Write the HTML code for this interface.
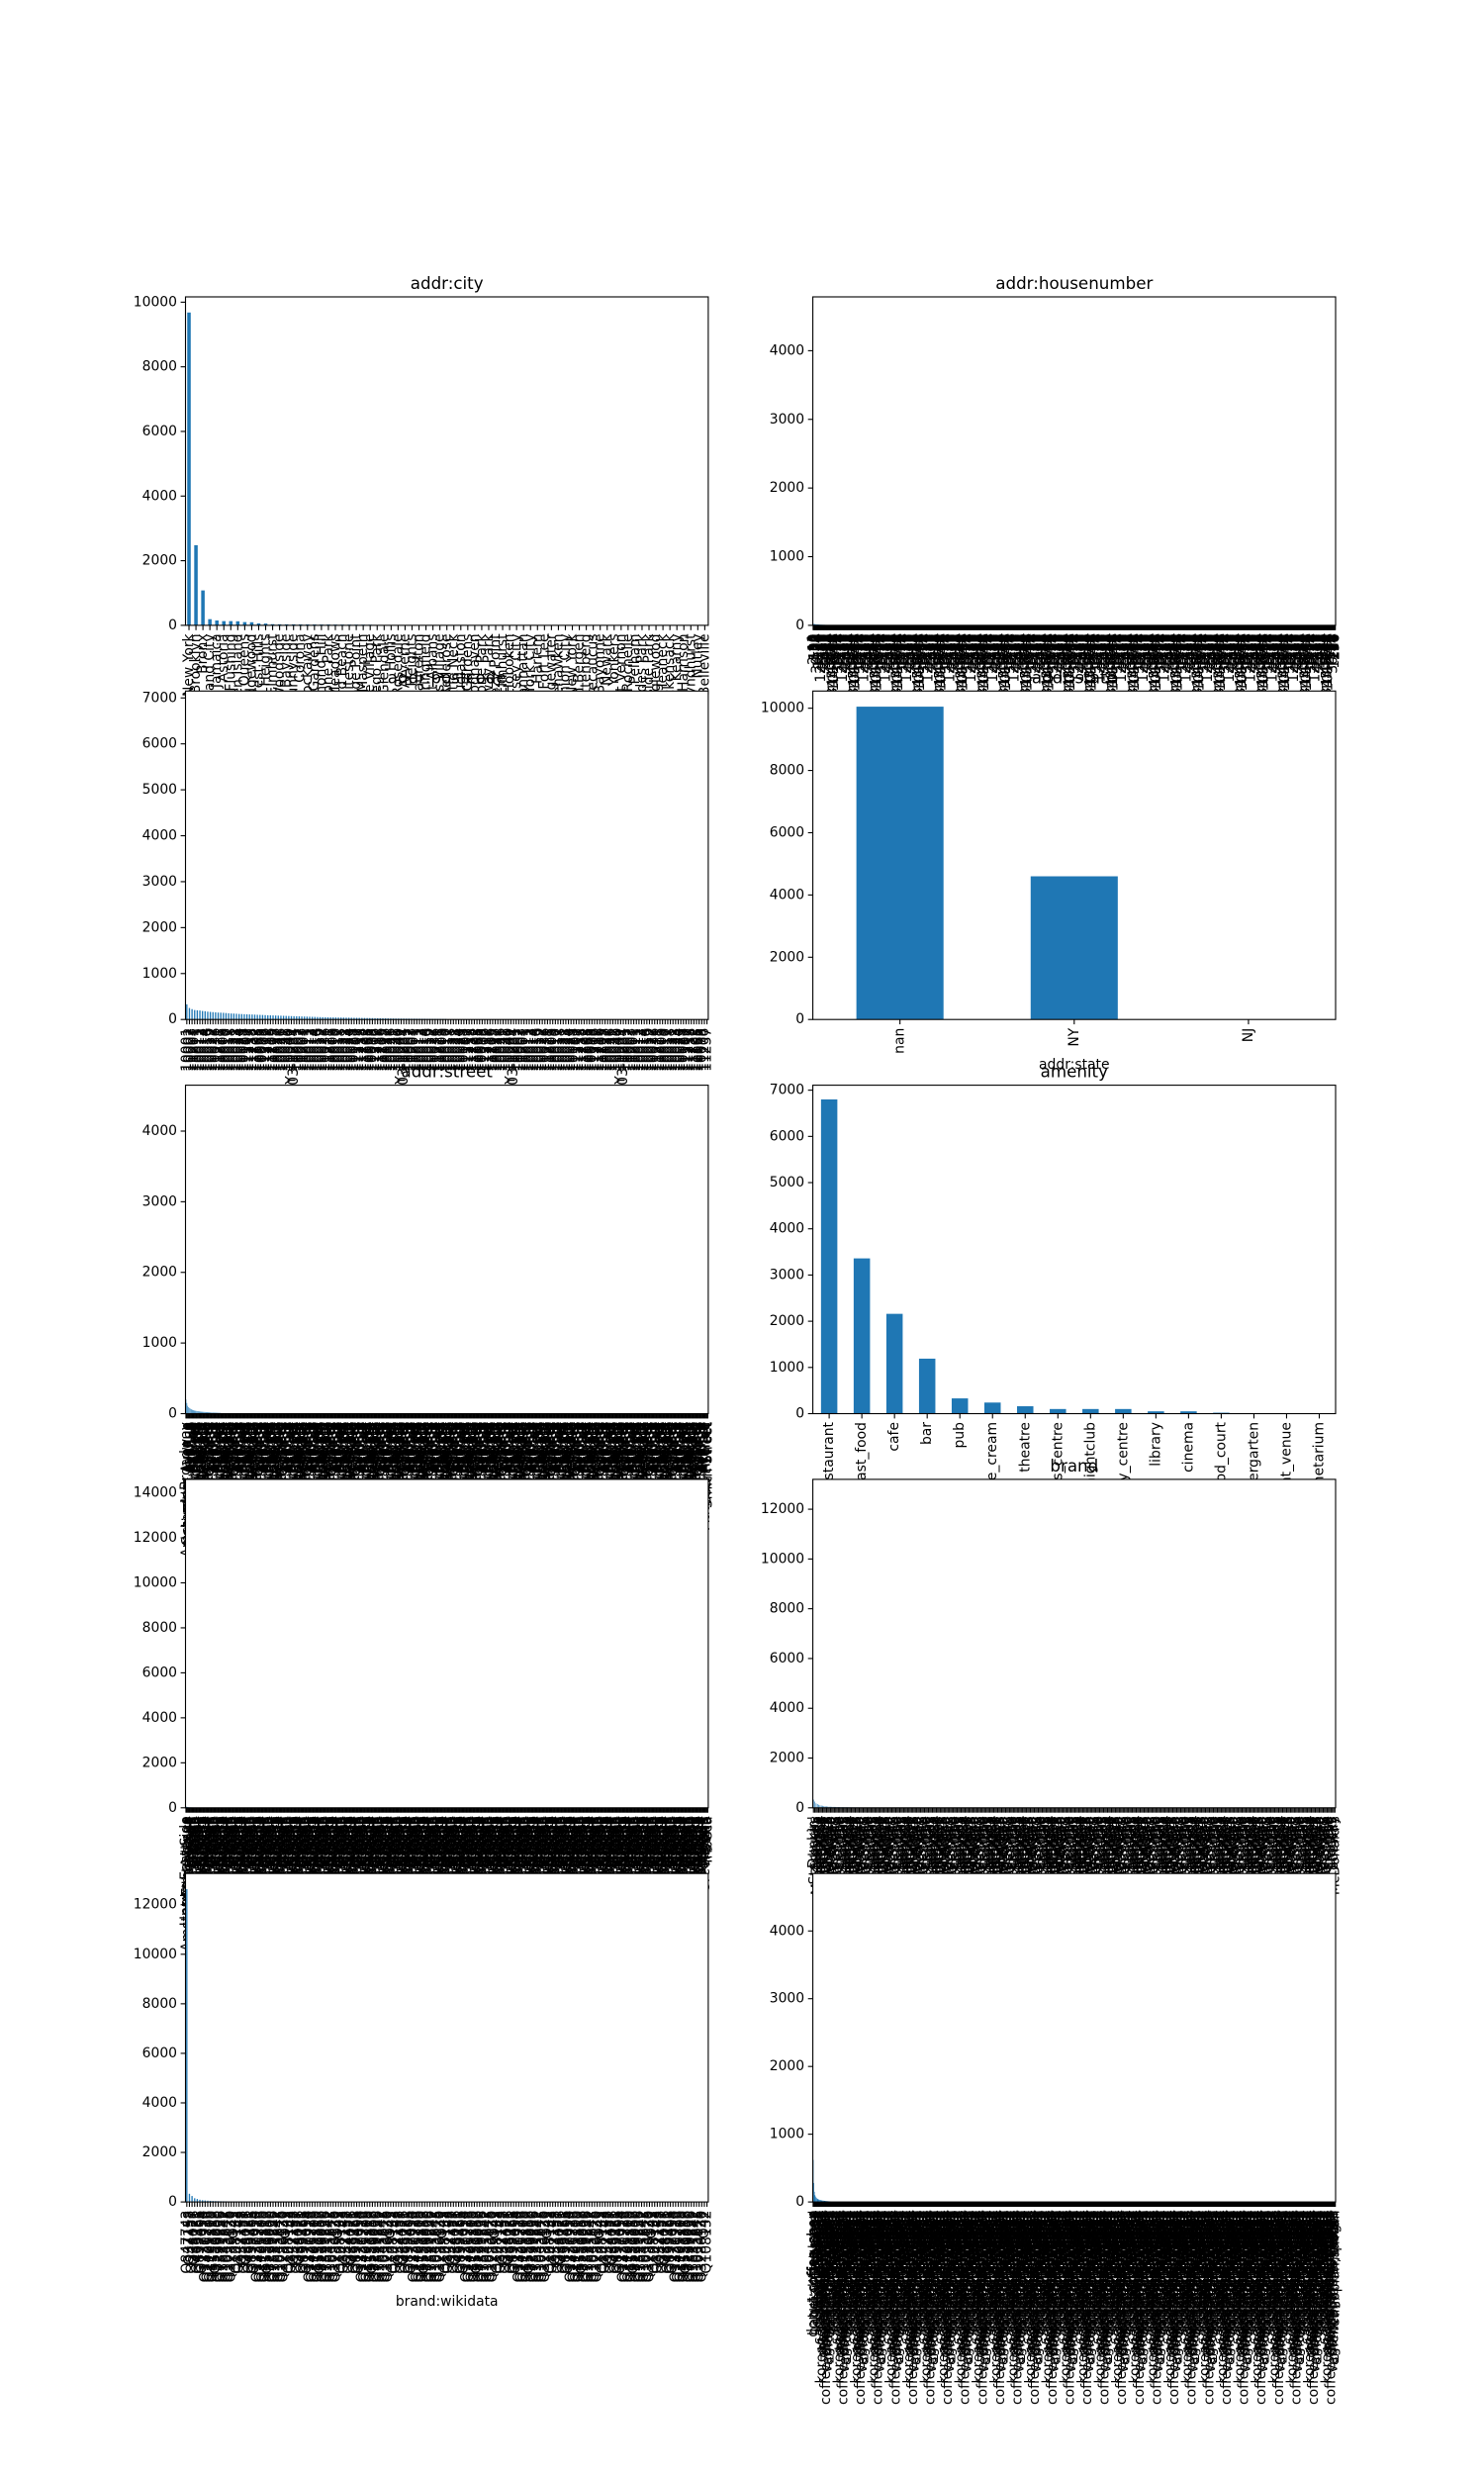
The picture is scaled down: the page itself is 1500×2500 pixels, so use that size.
<!DOCTYPE html>
<html><head><meta charset="utf-8"><style>
html,body{margin:0;padding:0;background:#fff;width:1500px;height:2500px;overflow:hidden;}
svg{display:block;font-family:"DejaVu Sans","Liberation Sans",sans-serif;overflow:hidden;}
</style></head><body>
<svg id="fig" width="1500" height="2500" viewBox="0 0 1500 2500" xmlns="http://www.w3.org/2000/svg"></svg>
<script>
// ---------- data ----------
const cityCats = ["New York","Brooklyn","Bronx","Long Island City","Jamaica","Astoria","Flushing","Staten Island","Queens","Ridgewood","Forest Hills","Jackson Heights","Elmhurst","Woodside","Bayside","Sunnyside","Corona","Far Rockaway","Kew Gardens","Richmond Hill","Ozone Park","Fresh Meadows","Howard Beach","Whitestone","College Point","Maspeth","Middle Village","Rego Park","Glendale","Hollis","Rosedale","Arverne","Cambria Heights","Laurelton","Springfield","Saint Albans","Queens Village","Bellerose","Little Neck","Douglaston","Oakland Gardens","Woodhaven","South Ozone Park","Rockaway Park","Breezy Point","East Elmhurst","Hoboken","Jersey City","Manhattan","New York City","Harlem","Fort Lee","Edgewater","Weehawken","Union City","West New York","North Bergen","Guttenberg","Secaucus","Bayonne","Newark","Yonkers","Mount Vernon","New Rochelle","Pelham","Palisades Park","Cliffside Park","Englewood","Teaneck","Hackensack","Kearny","Harrison","Lyndhurst","Nutley","Belleville"];
const cityVals = [9680,2480,1080,190,150,130,130,125,100,95,60,55,35,32,30,30,28,27,26,25,24,23,22,21,20,19,18,8,6,5,5,4,4,4,3,3,3,3,3,2,2,2,2,2,2,2,2,2,2,2,1,1,1,1,1,1,1,1,1,1,1,1,1,1,1,1,1,1,1,1,1,1,1,1,1];

const houseSample = ["1","2-10","10","100","12A","20","25","30-12","101","15","1234","250","5","40","123-45","7","88","300","45-10","2345","11","60","1000","9A","27","146","3-21","512","64","1801","77","2","430-A","19","12345-67 A","2-14 Rear","101-103"];
const houseVals = [22,18,18,16,15,14,14,13,12,12,11,10,10,9,9,8,8,8,7,7,7,6,6,6,5,5,5,5,4,4,4,4,4,3,3,3,3,3,3,3];
const houseCount = 900;

const postSample = ["10001","10002","10003","11201","10011","10012","10013","10014","10016","10019","10022","10036","11211","11215","10009","10010","10017","10018","10021","10023","10024","10025","10028","11101","11217","11238","11222","11103","10065","10075","11206","11237","11216","11205","10128","10027","10026","10031","10032","10040","NY 10001","10003-1234"];
const postVals = [330,250,225,205,200,195,185,180,170,165,160,155,150,148,145,140,135,130,128,125,120,118,115,112,110,108,105,102,100,98,95,92,90,88,86,84,82,80,78,76,74,72,70,68,66,64,62,60,58,56,54,52,50,48,47,46,45,44,43,42,41,40,39,38,37,36,35,34,33,32,31,30,29,28,27,26,25,24,23,22,21,21,20,20,19,19,18,18,17,17,16,16,15,15,14,14,13,13,12,12];
const postCount = 200;

const stateCats = ["nan","NY","NJ"];
const stateVals = [10050,4600,3];

const streetSample = ["Broadway","Amsterdam Avenue","Columbus Avenue","Lexington Avenue","Third Avenue","Second Avenue","First Avenue","Bedford Avenue","Atlantic Avenue","Fifth Avenue","Court Street","Smith Street","West 42nd Street","Flatbush Avenue","Steinway Street","Roosevelt Avenue","Northern Boulevard","Queens Boulevard","Ditmars Boulevard","Myrtle Avenue","Bleecker Street","Saint Marks Place","Avenue A","Avenue B","Eighth Avenue","East 14th Street","Canal Street","Grand Street"];
const streetVals = [200,150,110,90,80,70,62,55,50,46,42,40,38,36,34,32,30,28,27,26,25,24,23,22,21,20,19,18,17,16,15,15,14,14,13,13,12,12,11,11];
const streetCount = 600;

const amenityCats = ["restaurant","fast_food","cafe","bar","pub","ice_cream","theatre","arts_centre","nightclub","community_centre","library","cinema","food_court","kindergarten","event_venue","planetarium"];
const amenityVals = [6800,3360,2160,1190,330,240,160,100,100,100,50,50,20,3,2,2];

const branchSample = ["Upper East Side","Amsterdam Avenue","East Village","Williamsburg","Park Slope","Midtown","Chelsea","Astoria","Greenpoint","Harlem","SoHo","Tribeca","Flatiron","Murray Hill","Hell's Kitchen","Lower East Side","Bushwick","Upper West Side","Financial District","Union Square","Times Square"];
const branchVals = [60,40,30,25,20,18,16,15,14,12,11,10,9,8,8,7,7,6,6,5];
const branchCount = 600;

const brandSample = ["Dunkin'","Starbucks","Subway","McDonald's","Chipotle","Domino's","Burger King","Popeyes","Sweetgreen","Pret A Manger","Papa John's","Wendy's","Le Pain Quotidien","Just Salad","Panera Bread","Taco Bell","Little Caesars","Shake Shack","KFC","Blue Bottle Coffee","Joe & The Juice","Dig"];
const brandVals = [330,250,180,150,120,100,90,80,70,60,55,50,45,42,40,38,36,34,32,30,28,26,25,24,23,22,21,20,19,18,17,16,15,15,14,14,13,13,12,12];
const brandCount = 400;

const wikiSample = ["Q847743","Q37158","Q244457","Q38076","Q465751","Q839466","Q177054","Q1330910","Q2421738","Q2109109","Q1131810","Q550258","Q3229000","Q7399256","Q5531542","Q1045842","Q1033075","Q3286130","Q42","Q108152"];
const wikiVals = [12630,330,240,150,120,90,70,60,52,46,40,36,33,30,28,26,24,22,21,20,19,18,17,16,15,14,13,12,11,10];
const wikiCount = 200;

const cuisineSample = ["donut;coffee_shop","coffee_shop","bagel;coffee_shop","breakfast;bagel","vietnamese","pizza","italian","chinese","mexican","japanese;sushi","sandwich;breakfast","burger;american","latin_american","indian","thai","korean;barbecue;chicken","asian;noodle","mediterranean;greek","spanish;tapas","chicken;fried_chicken","seafood;oysters","french;bistro","coffee_shop;breakfast;bagel","dominican;caribbean","ramen","vegan;vegetarian;salad","tacos","american;diner;burger","polish","ethiopian;african"];
const cuisineVals = [620,280,150,100,80,65,55,48,42,38,34,30,28,26,24,22,20,19,18,17,16,15,14,13,12,11,10,10,9,9];
const cuisineCount = 900;
</script>
<script>
const NS = "http://www.w3.org/2000/svg";
const svg = document.getElementById("fig");
function mk(tag, attrs, parent) {
  const e = document.createElementNS(NS, tag);
  for (const k in attrs) e.setAttribute(k, attrs[k]);
  (parent || svg).appendChild(e);
  return e;
}
function cycleCats(sample, n) { const out = []; for (let i = 0; i < n; i++) out.push(sample[i % sample.length]); return out; }

const colL = [187.5, 821.6], W = 528.4, H = 331.9;
function rowTop(r) { return 300 + r * 398.3; }

function drawChart(c) {
  const g = mk("g", {});
  
  
  const L = c.left, T = c.top, B = T + H, n = c.cats.length;
  const xS = i => L + (i + 0.5) * W / n;
  const yS = v => B - v / c.yMax * H;
  const bg = mk("rect", {x: L, y: T, width: W, height: H, fill: "#fff"}, g);
  
  
  const bw = 0.5 * W / n;
  for (let i = 0; i < n; i++) {
    const v = c.vals[i] || 0;
    if (v <= 0) continue;
    const r = mk("rect", {x: xS(i) - bw / 2, y: yS(v), width: Math.max(bw, 0.6), height: B - yS(v), fill: "#1f77b4"}, g);
    
    
  }
  for (let v = 0; v <= c.yMax; v += c.yStep) {
    const y = yS(v);
    mk("line", {x1: L - 4.9, x2: L, y1: y, y2: y, stroke: "#000", "stroke-width": 1.1}, g);
    const t = mk("text", {x: L - 8.5, y: y, "font-size": 13.9, "text-anchor": "end", "dominant-baseline": "central", fill: "#000"}, g);
    
    
    t.textContent = String(v);
  }
  for (let i = 0; i < n; i++) {
    const x = xS(i);
    mk("line", {x1: x, x2: x, y1: B, y2: B + 4.9, stroke: "#000", "stroke-width": 1.1}, g);
    const t = mk("text", {x: x, y: B + 8.5, "font-size": 13.9, "text-anchor": "end", "dominant-baseline": "central", fill: "#000", transform: "rotate(-90 " + x + " " + (B + 8.5) + ")"}, g);
    
    
    t.textContent = c.cats[i];
  }
  const fr = mk("rect", {x: L, y: T, width: W, height: H, fill: "none", stroke: "#000", "stroke-width": 1.1}, g);
  
  
  const tt = mk("text", {x: L + W / 2, y: T - 8, "font-size": 16.7, "text-anchor": "middle", fill: "#000"}, g);
  
  
  tt.textContent = c.title;
  if (B + c.xlOff < 2495) {
    const xl = mk("text", {x: L + W / 2, y: B + c.xlOff, "font-size": 13.9, "text-anchor": "middle", fill: "#000"}, g);
    
    
    xl.textContent = c.title;
  }
}

const charts = [
  {name: "addr-city-chart", title: "addr:city", left: colL[0], top: rowTop(0), cats: cityCats, vals: cityVals, yMax: 10164, yStep: 2000, xlOff: 90},
  {name: "addr-housenumber-chart", title: "addr:housenumber", left: colL[1], top: rowTop(0), cats: cycleCats(houseSample, houseCount), vals: houseVals, yMax: 4784, yStep: 1000, xlOff: 80},
  {name: "addr-postcode-chart", title: "addr:postcode", left: colL[0], top: rowTop(1), cats: cycleCats(postSample, postCount), vals: postVals, yMax: 7150, yStep: 1000, xlOff: 100},
  {name: "addr-state-chart", title: "addr:state", left: colL[1], top: rowTop(1), cats: stateCats, vals: stateVals, yMax: 10552, yStep: 2000, xlOff: 50},
  {name: "addr-street-chart", title: "addr:street", left: colL[0], top: rowTop(2), cats: cycleCats(streetSample, streetCount), vals: streetVals, yMax: 4650, yStep: 1000, xlOff: 160},
  {name: "amenity-chart", title: "amenity", left: colL[1], top: rowTop(2), cats: amenityCats, vals: amenityVals, yMax: 7108, yStep: 1000, xlOff: 140},
  {name: "branch-chart", title: "branch", left: colL[0], top: rowTop(3), cats: cycleCats(branchSample, branchCount), vals: branchVals, yMax: 14600, yStep: 2000, xlOff: 150},
  {name: "brand-chart", title: "brand", left: colL[1], top: rowTop(3), cats: cycleCats(brandSample, brandCount), vals: brandVals, yMax: 13200, yStep: 2000, xlOff: 150},
  {name: "brand-wikidata-chart", title: "brand:wikidata", left: colL[0], top: rowTop(4), cats: cycleCats(wikiSample, wikiCount), vals: wikiVals, yMax: 13260, yStep: 2000, xlOff: 105},
  {name: "cuisine-chart", title: "cuisine", left: colL[1], top: rowTop(4), cats: cycleCats(cuisineSample, cuisineCount), vals: cuisineVals, yMax: 4848, yStep: 1000, xlOff: 400}
];
charts.forEach(drawChart);
</script>
</body></html>
